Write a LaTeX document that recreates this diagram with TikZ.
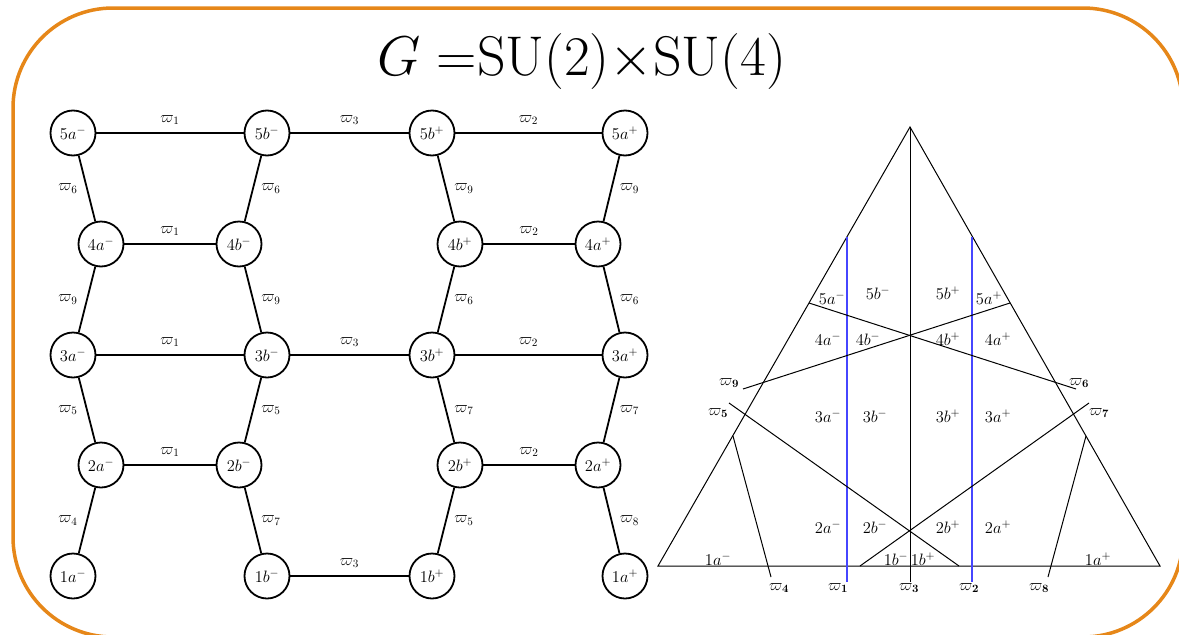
\RequirePackage{fix-cm}
\documentclass[tikz,border=0pt]{standalone}
\usepackage{amsmath}
\definecolor{frameorange}{RGB}{230,135,25}
\definecolor{lineblue}{RGB}{70,70,255}
\begin{document}
\begin{tikzpicture}[x=1pt,y=-1pt,
  state/.style={circle,draw,line width=1.8pt,minimum size=45pt,inner sep=0pt,font=\fontsize{16.5}{19}\selectfont},
  edge/.style={line width=1.8pt},
  lab/.style={font=\fontsize{16}{19}\selectfont,inner sep=0pt},
  hl/.style={lab,midway,yshift=13pt},
  ll/.style={lab,midway,xshift=-19pt},
  rl/.style={lab,midway,xshift=18pt},
  tri/.style={line width=1pt},
  blueline/.style={line width=1.3pt,draw=lineblue},
  reg/.style={font=\fontsize{16.5}{19}\selectfont,inner sep=0pt},
  wl/.style={font=\fontsize{16}{19}\selectfont,inner sep=0pt}]
\useasboundingbox (0,0) rectangle (1179,635);
\draw[frameorange,line width=3.5pt,rounded corners=100pt] (13,8) rectangle (1183,637);
\node (title) at (582,62) {\fontsize{56}{64}\selectfont $G =$SU(2)$\times$SU(4)};

% graph nodes
\node[state] (a5m) at (73,133) {$5a^-$};
\node[state] (b5m) at (267,133) {$5b^-$};
\node[state] (b5p) at (432,133) {$5b^+$};
\node[state] (a5p) at (625,133) {$5a^+$};
\node[state] (a4m) at (101,244) {$4a^-$};
\node[state] (b4m) at (239,244) {$4b^-$};
\node[state] (b4p) at (460,244) {$4b^+$};
\node[state] (a4p) at (598,244) {$4a^+$};
\node[state] (a3m) at (73,355) {$3a^-$};
\node[state] (b3m) at (267,355) {$3b^-$};
\node[state] (b3p) at (432,355) {$3b^+$};
\node[state] (a3p) at (625,355) {$3a^+$};
\node[state] (a2m) at (101,465) {$2a^-$};
\node[state] (b2m) at (239,465) {$2b^-$};
\node[state] (b2p) at (460,465) {$2b^+$};
\node[state] (a2p) at (598,465) {$2a^+$};
\node[state] (a1m) at (73,576) {$1a^-$};
\node[state] (b1m) at (267,576) {$1b^-$};
\node[state] (b1p) at (432,576) {$1b^+$};
\node[state] (a1p) at (625,576) {$1a^+$};

% horizontal edges
\draw[edge] (a5m) -- node[hl]{$\varpi_1$} (b5m);
\draw[edge] (b5m) -- node[hl]{$\varpi_3$} (b5p);
\draw[edge] (b5p) -- node[hl]{$\varpi_2$} (a5p);
\draw[edge] (a4m) -- node[hl]{$\varpi_1$} (b4m);
\draw[edge] (b4p) -- node[hl]{$\varpi_2$} (a4p);
\draw[edge] (a3m) -- node[hl]{$\varpi_1$} (b3m);
\draw[edge] (b3m) -- node[hl]{$\varpi_3$} (b3p);
\draw[edge] (b3p) -- node[hl]{$\varpi_2$} (a3p);
\draw[edge] (a2m) -- node[hl]{$\varpi_1$} (b2m);
\draw[edge] (b2p) -- node[hl]{$\varpi_2$} (a2p);
\draw[edge] (b1m) -- node[hl]{$\varpi_3$} (b1p);

% vertical edges
\draw[edge] (a5m) -- node[ll]{$\varpi_6$} (a4m);
\draw[edge] (b5m) -- node[rl]{$\varpi_6$} (b4m);
\draw[edge] (b5p) -- node[rl]{$\varpi_9$} (b4p);
\draw[edge] (a5p) -- node[rl]{$\varpi_9$} (a4p);
\draw[edge] (a4m) -- node[ll]{$\varpi_9$} (a3m);
\draw[edge] (b4m) -- node[rl]{$\varpi_9$} (b3m);
\draw[edge] (b4p) -- node[rl]{$\varpi_6$} (b3p);
\draw[edge] (a4p) -- node[rl]{$\varpi_6$} (a3p);
\draw[edge] (a3m) -- node[ll]{$\varpi_5$} (a2m);
\draw[edge] (b3m) -- node[rl]{$\varpi_5$} (b2m);
\draw[edge] (b3p) -- node[rl]{$\varpi_7$} (b2p);
\draw[edge] (a3p) -- node[rl]{$\varpi_7$} (a2p);
\draw[edge] (a2m) -- node[ll]{$\varpi_4$} (a1m);
\draw[edge] (b2m) -- node[rl]{$\varpi_7$} (b1m);
\draw[edge] (b2p) -- node[rl]{$\varpi_5$} (b1p);
\draw[edge] (a2p) -- node[rl]{$\varpi_8$} (a1p);

% triangle
\coordinate (T) at (910,127);
\coordinate (BL) at (658,566);
\coordinate (BR) at (1160,566);
\draw[tri] (T) -- (BL) -- (BR) -- cycle;
\coordinate (w3e) at (910,582);
\draw[tri] (T) -- (w3e);
\coordinate (w1s) at (847,237);
\coordinate (w1e) at (847,582);
\coordinate (w2s) at (972,237);
\coordinate (w2e) at (972,582);
\draw[blueline] (w1s) -- (w1e);
\draw[blueline] (w2s) -- (w2e);
\coordinate (w4s) at (733,436);
\coordinate (w4e) at (771,577);
\draw[tri] (w4s) -- (w4e);
\coordinate (w8s) at (1086,436);
\coordinate (w8e) at (1048,577);
\draw[tri] (w8s) -- (w8e);
\coordinate (w5s) at (729,403);
\coordinate (w5e) at (959,566);
\draw[tri] (w5s) -- (w5e);
\coordinate (w7s) at (1089,403);
\coordinate (w7e) at (860,566);
\draw[tri] (w7s) -- (w7e);
\coordinate (w9s) at (743,389);
\coordinate (w9e) at (1010,303);
\draw[tri] (w9s) -- (w9e);
\coordinate (w6s) at (1076,389);
\coordinate (w6e) at (809,303);
\draw[tri] (w6s) -- (w6e);

% weight labels
\node[wl] (l4) at (779,588) {$\varpi_{\mathbf 4}$};
\node[wl] (l1) at (838,588) {$\varpi_{\mathbf 1}$};
\node[wl] (l3) at (909,588) {$\varpi_{\mathbf 3}$};
\node[wl] (l2) at (969,588) {$\varpi_{\mathbf 2}$};
\node[wl] (l8) at (1039,588) {$\varpi_{\mathbf 8}$};
\node[wl] (l5) at (718,413) {$\varpi_{\mathbf 5}$};
\node[wl] (l7) at (1099,413) {$\varpi_{\mathbf 7}$};
\node[wl] (l9) at (729,383) {$\varpi_{\mathbf 9}$};
\node[wl] (l6) at (1079,383) {$\varpi_{\mathbf 6}$};

% region labels
\node[reg] (r5am) at (832,298) {$5a^-$};
\node[reg] (r5bm) at (878,293) {$5b^-$};
\node[reg] (r5bp) at (948,293) {$5b^+$};
\node[reg] (r5ap) at (989,298) {$5a^+$};
\node[reg] (r4am) at (828,339) {$4a^-$};
\node[reg] (r4bm) at (868,339) {$4b^-$};
\node[reg] (r4bp) at (948,339) {$4b^+$};
\node[reg] (r4ap) at (998,339) {$4a^+$};
\node[reg] (r3am) at (828,416) {$3a^-$};
\node[reg] (r3bm) at (875,416) {$3b^-$};
\node[reg] (r3bp) at (948,416) {$3b^+$};
\node[reg] (r3ap) at (998,416) {$3a^+$};
\node[reg] (r2am) at (828,527) {$2a^-$};
\node[reg] (r2bm) at (875,527) {$2b^-$};
\node[reg] (r2bp) at (948,527) {$2b^+$};
\node[reg] (r2ap) at (998,527) {$2a^+$};
\node[reg] (r1am) at (718,559) {$1a^-$};
\node[reg] (r1bm) at (896,559) {$1b^-$};
\node[reg] (r1bp) at (923,559) {$1b^+$};
\node[reg] (r1ap) at (1098,559) {$1a^+$};
\end{tikzpicture}
\end{document}
